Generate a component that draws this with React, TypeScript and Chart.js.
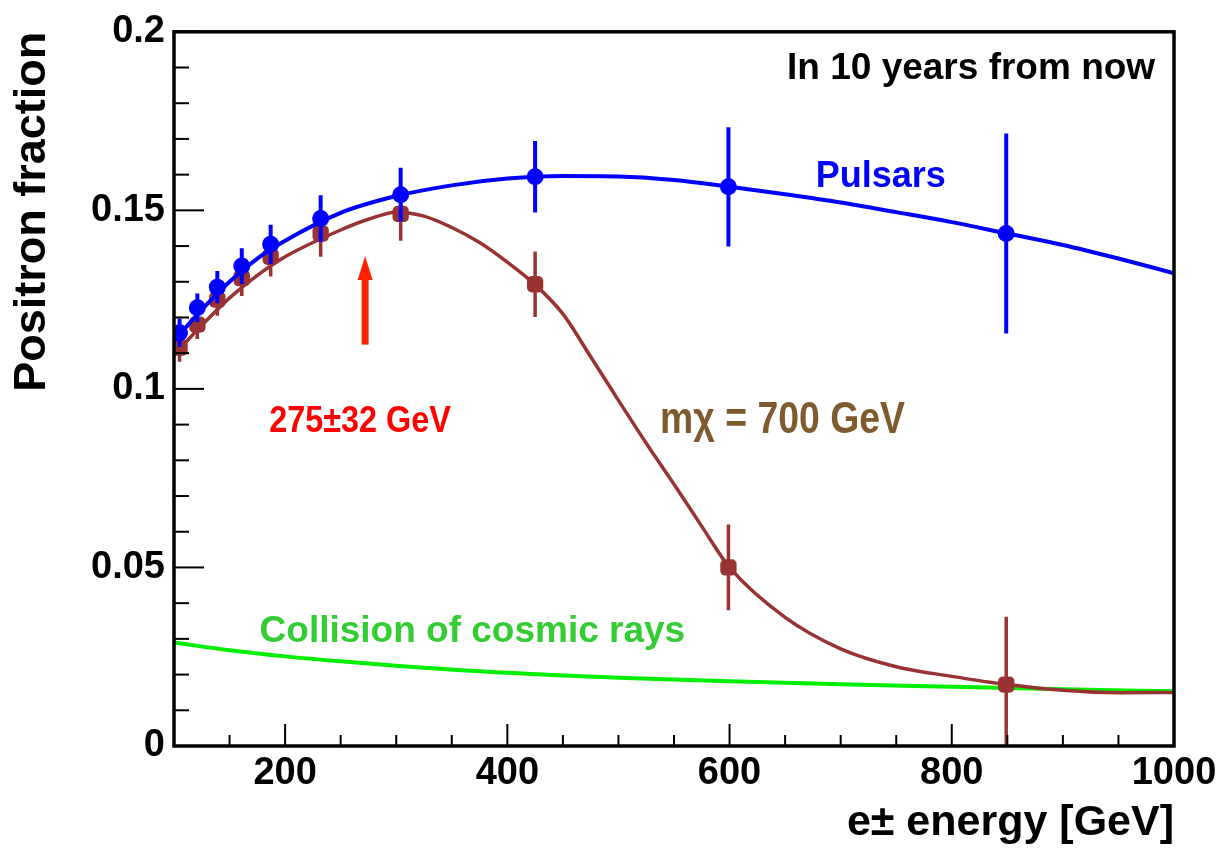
import React, { useEffect, useRef } from "react";
import { Chart, registerables } from "chart.js";

Chart.register(...registerables);

// ---- data (energy in GeV, positron fraction) ----
const pointEnergy = [105, 121, 139, 161, 187, 232, 304, 425, 599, 849];
const pulsarPoints = [0.1157, 0.1227, 0.1285, 0.1344, 0.1405, 0.1477, 0.1544, 0.1594, 0.1566, 0.1435];
const pulsarErrors = [0.004, 0.004, 0.0045, 0.005, 0.0055, 0.0065, 0.0075, 0.01, 0.0167, 0.028];
const darkMatterPoints = [0.1116, 0.118, 0.125, 0.131, 0.137, 0.1435, 0.149, 0.1293, 0.05, 0.0172];
const darkMatterErrors = [0.004, 0.004, 0.0045, 0.005, 0.0055, 0.0065, 0.0075, 0.0092, 0.012, 0.019];

const pulsarCurveE = [100, 110, 125, 150, 175, 200, 250, 300, 350, 400, 450, 500, 550, 600, 650, 700, 750, 800, 850, 900, 950, 1000];
const pulsarCurve = [0.1135, 0.117, 0.1222, 0.13, 0.1365, 0.1415, 0.1493, 0.154, 0.157, 0.1589, 0.1596, 0.1595, 0.1585, 0.1566, 0.1545, 0.1522, 0.1495, 0.1467, 0.1435, 0.1403, 0.1365, 0.1324];

const darkMatterCurveE = [100, 125, 150, 175, 200, 250, 275, 300, 325, 350, 375, 400, 425, 450, 475, 500, 525, 550, 575, 600, 650, 700, 750, 800, 850, 900, 950, 1000];
const darkMatterCurve = [0.1095, 0.1178, 0.1255, 0.1318, 0.137, 0.1445, 0.1475, 0.1495, 0.1484, 0.1452, 0.141, 0.1355, 0.1292, 0.121, 0.109, 0.0968, 0.0848, 0.0733, 0.0615, 0.05, 0.036, 0.0272, 0.0222, 0.0195, 0.0172, 0.0156, 0.0149, 0.015];

const cosmicCurveE = [100, 150, 200, 250, 300, 400, 500, 600, 700, 800, 900, 1000];
const cosmicCurve = [0.029, 0.0268, 0.0251, 0.0237, 0.0225, 0.0205, 0.0191, 0.0181, 0.0173, 0.0166, 0.0159, 0.0153];

const xMin = 100;
const xMax = 1000;
const yMin = 0;
const yMax = 0.2;

// ---- annotation texts (anchored in data coordinates) ----
const SANS = '"Liberation Sans", Arial, Helvetica, sans-serif';
const annotations = [
  { text: "In 10 years from now", x: 983, y: 0.1897, color: "#000000", font: `bold 37px ${SANS}`, align: "right", squeeze: 1 },
  { text: "Pulsars", x: 736, y: 0.1594, color: "#0000ff", font: `bold 36px ${SANS}`, align: "center", squeeze: 1 },
  { text: "275±32 GeV", x: 267.4, y: 0.0907, color: "#ff0000", font: `bold 36px ${SANS}`, align: "center", squeeze: 0.9 },
  { text: "mχ = 700 GeV", x: 537.4, y: 0.091, color: "#7f5a2e", font: `bold 44px ${SANS}`, align: "left", squeeze: 0.85 },
  { text: "Collision of cosmic rays", x: 177, y: 0.032, color: "#33cc33", font: `bold 37px ${SANS}`, align: "left", squeeze: 1 },
];
const arrow = { x: 272, yFrom: 0.1124, yTo: 0.1372, color: "#ff2200" };

const toXY = (xs: number[], ys: number[]) => xs.map((x, i) => ({ x, y: ys[i] }));

const errorBarPlugin = {
  id: "errorBars",
  beforeDatasetDraw(chart: any, args: any) {
    const ds = chart.data.datasets[args.index];
    if (!ds.errors) return;
    const { ctx, chartArea, scales } = chart;
    ctx.save();
    ctx.beginPath();
    ctx.rect(chartArea.left, chartArea.top, chartArea.right - chartArea.left, chartArea.bottom - chartArea.top);
    ctx.clip();
    ctx.strokeStyle = ds.borderColor;
    ctx.lineWidth = ds.errorWidth || 4;
    ds.data.forEach((p: any, i: number) => {
      const px = scales.x.getPixelForValue(p.x);
      const y1 = scales.y.getPixelForValue(p.y + ds.errors[i]);
      const y2 = scales.y.getPixelForValue(p.y - ds.errors[i]);
      ctx.beginPath();
      ctx.moveTo(px, y1);
      ctx.lineTo(px, y2);
      ctx.stroke();
    });
    ctx.restore();
  },
};

const framePlugin = {
  id: "frameTicks",
  afterDatasetsDraw(chart: any) {
    const { ctx, chartArea, scales } = chart;
    const { left, right, top, bottom } = chartArea;
    ctx.save();
    ctx.strokeStyle = "#000000";
    ctx.lineWidth = 2;
    scales.y.ticks.forEach((t: any) => {
      const py = scales.y.getPixelForValue(t.value);
      const major = Math.round(t.value * 100) % 5 === 0;
      ctx.beginPath();
      ctx.moveTo(left, py);
      ctx.lineTo(left + (major ? 30 : 15), py);
      ctx.stroke();
    });
    scales.x.ticks.forEach((t: any) => {
      const px = scales.x.getPixelForValue(t.value);
      const major = Math.round(t.value) % 200 === 0;
      ctx.beginPath();
      ctx.moveTo(px, bottom);
      ctx.lineTo(px, bottom - (major ? 22 : 11));
      ctx.stroke();
    });
    ctx.lineWidth = 3.5;
    ctx.strokeRect(left, top, right - left, bottom - top);

    // annotations
    annotations.forEach((a) => {
      ctx.save();
      ctx.font = a.font;
      ctx.fillStyle = a.color;
      ctx.textAlign = a.align as CanvasTextAlign;
      ctx.textBaseline = "middle";
      ctx.translate(scales.x.getPixelForValue(a.x), scales.y.getPixelForValue(a.y));
      ctx.scale(a.squeeze, 1);
      ctx.fillText(a.text, 0, 0);
      ctx.restore();
    });

    // arrow
    const ax = scales.x.getPixelForValue(arrow.x);
    const ay0 = scales.y.getPixelForValue(arrow.yFrom);
    const ay1 = scales.y.getPixelForValue(arrow.yTo);
    ctx.fillStyle = arrow.color;
    ctx.fillRect(ax - 3.5, ay1 + 20, 7, ay0 - ay1 - 20);
    ctx.beginPath();
    ctx.moveTo(ax, ay1);
    ctx.lineTo(ax - 7.5, ay1 + 24);
    ctx.lineTo(ax + 7.5, ay1 + 24);
    ctx.closePath();
    ctx.fill();
    ctx.restore();
  },
};

export default function App() {
  const canvasRef = useRef<HTMLCanvasElement | null>(null);

  useEffect(() => {
    if (!canvasRef.current) return;
    const chart = new Chart(canvasRef.current, {
      type: "scatter",
      data: {
        datasets: [
          {
            label: "Pulsars points",
            data: toXY(pointEnergy, pulsarPoints),
            errors: pulsarErrors,
            errorWidth: 4,
            borderColor: "#0000ff",
            backgroundColor: "#0000ff",
            pointRadius: 8.5,
            pointBorderWidth: 0,
            showLine: false,
          } as any,
          {
            label: "Pulsars",
            data: toXY(pulsarCurveE, pulsarCurve),
            borderColor: "#0000ff",
            borderWidth: 4,
            pointRadius: 0,
            showLine: true,
            cubicInterpolationMode: "monotone",
          },
          {
            label: "DM points",
            data: toXY(pointEnergy, darkMatterPoints),
            errors: darkMatterErrors,
            errorWidth: 3.5,
            borderColor: "#993333",
            backgroundColor: "#993333",
            pointStyle: "rectRounded",
            pointRadius: 9.5,
            pointBorderWidth: 0,
            showLine: false,
          } as any,
          {
            label: "DM",
            data: toXY(darkMatterCurveE, darkMatterCurve),
            borderColor: "#993333",
            borderWidth: 3.5,
            pointRadius: 0,
            showLine: true,
            cubicInterpolationMode: "monotone",
          },
          {
            label: "Cosmic",
            data: toXY(cosmicCurveE, cosmicCurve),
            borderColor: "#00ee00",
            borderWidth: 4,
            pointRadius: 0,
            showLine: true,
            cubicInterpolationMode: "monotone",
          },
        ],
      },
      options: {
        responsive: false,
        animation: false,
        events: [],
        layout: { padding: { top: 27, right: 51, left: 0, bottom: 0 } },
        plugins: { legend: { display: false }, tooltip: { enabled: false } },
        scales: {
          x: {
            type: "linear",
            min: xMin,
            max: xMax,
            grid: { display: false, drawTicks: false },
            border: { display: false },
            afterFit: (s: any) => {
              s.height = 103;
            },
            ticks: {
              stepSize: 50,
              autoSkip: false,
              maxRotation: 0,
              padding: 5,
              color: "#000000",
              font: { family: SANS, size: 38, weight: "bold" },
              callback: (v: any) => (Math.round(v) % 200 === 0 ? String(Math.round(v)) : ""),
            },
            title: {
              display: true,
              text: "e± energy [GeV]",
              align: "end",
              color: "#000000",
              padding: { top: 0, bottom: 0 },
              font: { family: SANS, size: 43, weight: "bold" },
            },
          },
          y: {
            type: "linear",
            min: yMin,
            max: yMax,
            grid: { display: false, drawTicks: false },
            border: { display: false },
            afterFit: (s: any) => {
              s.width = 174;
            },
            ticks: {
              stepSize: 0.01,
              autoSkip: false,
              padding: 9,
              color: "#000000",
              font: { family: SANS, size: 38, weight: "bold" },
              callback: (v: any) => {
                const r = Math.round(v * 100);
                return r % 5 === 0 ? String(r / 100) : "";
              },
            },
            title: {
              display: true,
              text: "Positron fraction",
              align: "end",
              color: "#000000",
              padding: { top: 6, bottom: 0 },
              font: { family: SANS, size: 45, weight: "bold" },
            },
          },
        },
      } as any,
      plugins: [errorBarPlugin, framePlugin],
    });
    return () => chart.destroy();
  }, []);

  return (
    <div style={{ position: "absolute", left: 0, top: 0, width: 1225, height: 849, background: "#ffffff" }}>
      <canvas ref={canvasRef} width={1225} height={849} />
    </div>
  );
}
